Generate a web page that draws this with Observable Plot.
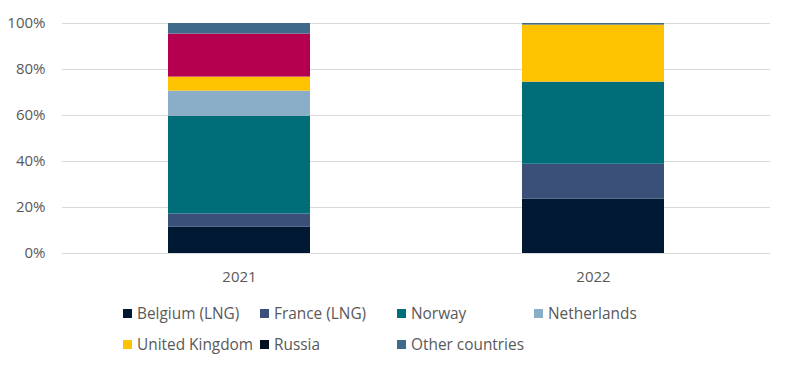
<!DOCTYPE html>
<html>
<head>
<meta charset="utf-8">
<script src="https://cdn.jsdelivr.net/npm/d3@7"></script>
<script src="https://cdn.jsdelivr.net/npm/@observablehq/plot@0.6"></script>
<style>
  body { margin: 0; background: #fff; font-family: "Open Sans", sans-serif; }
  #wrap { position: relative; width: 790px; height: 374px; }
  .leg { position: absolute; display: flex; align-items: center; font-size: 15.4px; color: #595959; white-space: nowrap; }
  .sw { width: 9px; height: 9px; margin-right: 5px; }
</style>
</head>
<body>
<div id="wrap"></div>
<script>
const years = ["2021", "2022"];
const countries = ["Belgium (LNG)", "France (LNG)", "Norway", "Netherlands", "United Kingdom", "Russia", "Other countries"];
const share2021 = [11.4, 5.8, 42.5, 10.9, 6.1, 18.7, 4.6];
const share2022 = [23.6, 15.2, 35.7, 0, 24.8, 0, 0.7];
const colors = ["#001831", "#3A5079", "#006E78", "#8AADC8", "#FDC300", "#B4004F", "#3F6A8A"];
const legendColors = ["#001831", "#3A5079", "#006E78", "#8AADC8", "#FDC300", "#001020", "#3F6A8A"];
const yTicks = [0, 20, 40, 60, 80, 100];

const data = [];
countries.forEach((c, i) => {
  data.push({year: years[0], country: c, value: share2021[i]});
  data.push({year: years[1], country: c, value: share2022[i]});
});

const gray = "#595959";
const chart = Plot.plot({
  width: 790,
  height: 290,
  marginTop: 23,
  marginBottom: 37,
  marginLeft: 62,
  marginRight: 20,
  style: {fontFamily: "Open Sans", fontSize: "15px", color: gray, background: "#fff"},
  x: {domain: years, paddingInner: 0.6, paddingOuter: 0.3, label: null},
  y: {domain: [0, 100], label: null},
  color: {domain: countries, range: colors},
  marks: [
    Plot.ruleY(yTicks, {stroke: "#d9d9d9", strokeWidth: 1}),
    Plot.barY(data, {x: "year", y: "value", fill: "country", order: countries}),
    Plot.axisY(yTicks, {tickSize: 0, tickPadding: 17, tickFormat: d => d + "%", fill: gray, fontSize: 15, label: null}),
    Plot.axisX({tickSize: 0, tickPadding: 18, fill: gray, fontSize: 15, label: null})
  ]
});
const wrap = document.getElementById("wrap");
wrap.appendChild(chart);

const colX = [123, 260, 397, 534];
const rowY = [313, 344];
countries.forEach((c, i) => {
  const d = document.createElement("div");
  d.className = "leg";
  d.style.left = colX[i % 4] + "px";
  d.style.top = (rowY[Math.floor(i / 4)] - 11) + "px";
  d.style.height = "22px";
  const s = document.createElement("span");
  s.className = "sw";
  s.style.background = legendColors[i];
  d.appendChild(s);
  const t = document.createElement("span");
  t.textContent = c;
  d.appendChild(t);
  wrap.appendChild(d);
});
</script>
</body>
</html>
